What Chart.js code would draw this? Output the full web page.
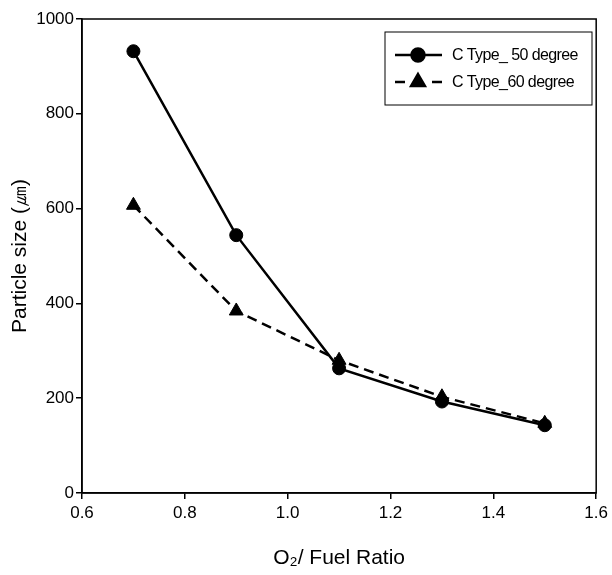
<!DOCTYPE html>
<html>
<head>
<meta charset="utf-8">
<script src="https://cdn.jsdelivr.net/npm/chart.js@4"></script>
<style>
  html, body { margin: 0; padding: 0; background: #fff; }
  #wrap { width: 612px; height: 575px; }
</style>
</head>
<body>
<div id="wrap"><canvas id="sizeChart" width="612" height="575"></canvas></div>
<script>
// Données
const ratios = [0.7, 0.9, 1.1, 1.3, 1.5];
const type50 = [932, 544, 263, 193, 143];
const type60 = [607, 384, 280, 203, 147];
const xTicks = [0.6, 0.8, 1.0, 1.2, 1.4, 1.6];
const yTicks = [0, 200, 400, 600, 800, 1000];

const FONT = 'Liberation Sans, Arial, sans-serif';

// Cadre autour de la zone de tracé + légende encadrée
const frameAndLegend = {
    id: 'frameAndLegend',
    afterDraw(chart) {
        const ctx = chart.ctx;
        const a = chart.chartArea;
        ctx.save();
        ctx.strokeStyle = '#000';
        ctx.lineWidth = 1.5;
        ctx.strokeRect(a.left, a.top, a.right - a.left, a.bottom - a.top);

        // légende
        const bx = 385, by = 32, bw = 207, bh = 73;
        ctx.lineWidth = 1;
        ctx.strokeRect(bx, by, bw, bh);
        ctx.font = '16px ' + FONT;
        ctx.fillStyle = '#000';
        ctx.textBaseline = 'middle';
        if ('letterSpacing' in ctx) ctx.letterSpacing = '-0.6px';
        chart.data.datasets.forEach((ds, i) => {
            const y = by + 23 + i * 27;
            ctx.beginPath();
            ctx.lineWidth = ds.borderWidth;
            if (ds.borderDash) {
                ctx.moveTo(bx + 10, y); ctx.lineTo(bx + 20, y);
                ctx.moveTo(bx + 47, y); ctx.lineTo(bx + 57, y);
            } else {
                ctx.moveTo(bx + 10, y); ctx.lineTo(bx + 57, y);
            }
            ctx.stroke();
            Chart.helpers.drawPoint(ctx, {
                pointStyle: ds.pointStyle,
                radius: ds.pointRadius,
                borderWidth: 1
            }, bx + 33, y);
            ctx.fillText(ds.label, bx + 67, y + 1);
        });
        ctx.restore();
    }
};

new Chart(document.getElementById('sizeChart').getContext('2d'), {
    type: 'line',
    data: {
        datasets: [{
            label: 'C Type_ 50 degree',
            data: ratios.map((x, i) => ({ x: x, y: type50[i] })),
            borderColor: '#000',
            backgroundColor: '#000',
            borderWidth: 2.5,
            pointStyle: 'circle',
            pointRadius: 6.5,
            pointBorderWidth: 1
        }, {
            label: 'C Type_60 degree',
            data: ratios.map((x, i) => ({ x: x, y: type60[i] })),
            borderColor: '#000',
            backgroundColor: '#000',
            borderWidth: 2.5,
            borderDash: [10, 6],
            pointStyle: 'triangle',
            pointRadius: 8,
            pointBorderWidth: 1
        }]
    },
    options: {
        responsive: false,
        animation: false,
        layout: { padding: { top: 19, right: 14, left: 0, bottom: 0 } },
        plugins: {
            legend: { display: false },
            tooltip: { enabled: false }
        },
        scales: {
            x: {
                type: 'linear',
                min: 0.6,
                max: 1.6,
                afterBuildTicks: s => { s.ticks = xTicks.map(v => ({ value: v })); },
                afterFit: s => { s.height = 82; },
                ticks: {
                    color: '#000',
                    font: { family: FONT, size: 17 },
                    padding: 4,
                    maxRotation: 0,
                    callback: v => v.toFixed(1)
                },
                grid: { drawOnChartArea: false, tickLength: 6, color: '#000', lineWidth: 1.5 },
                border: { color: '#000', width: 1.5 },
                title: {
                    display: true,
                    text: 'O\u2082/ Fuel Ratio',
                    color: '#000',
                    font: { family: FONT, size: 21 },
                    padding: { top: 6 }
                }
            },
            y: {
                min: 0,
                max: 1000,
                afterBuildTicks: s => { s.ticks = yTicks.map(v => ({ value: v })); },
                afterFit: s => { s.width = 82; },
                ticks: {
                    color: '#000',
                    font: { family: FONT, size: 17 },
                    padding: 2,
                    callback: v => String(v)
                },
                grid: { drawOnChartArea: false, tickLength: 6, color: '#000', lineWidth: 1.5 },
                border: { color: '#000', width: 1.5 },
                title: {
                    display: true,
                    text: 'Particle size (\u339B)',
                    color: '#000',
                    font: { family: FONT, size: 21 },
                    padding: { top: 8, bottom: 4 }
                }
            }
        }
    },
    plugins: [frameAndLegend]
});
</script>
</body>
</html>
